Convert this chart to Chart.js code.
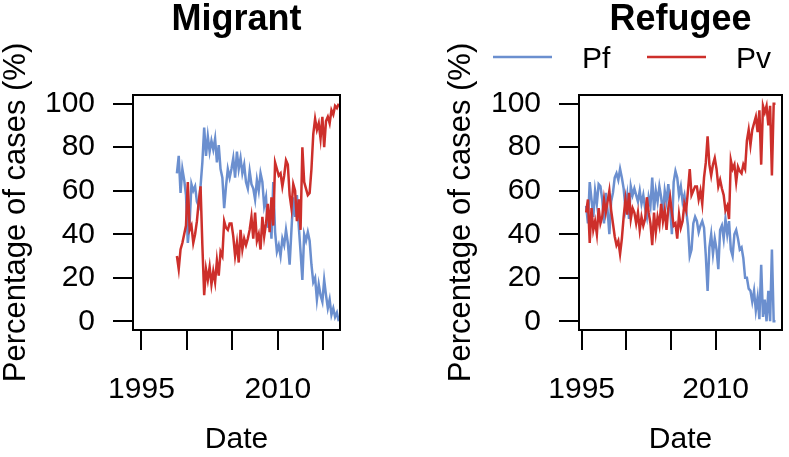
<!DOCTYPE html>
<html>
<head>
<meta charset="utf-8">
<script src="https://cdn.jsdelivr.net/npm/chart.js@4/dist/chart.umd.min.js"></script>
<style>
  html, body { margin: 0; padding: 0; background: #fff; }
  #wrap { position: relative; width: 789px; height: 457px; }
  canvas { position: absolute; top: 0; }
  #migrant-chart { left: 0; }
  #refugee-chart { left: 395px; }
</style>
</head>
<body>
<div id="wrap">
  <canvas id="migrant-chart" width="395" height="457"></canvas>
  <canvas id="refugee-chart" width="394" height="457"></canvas>
</div>
<script>
// Sampling of both series (decimal years, one reading every 0.2 year)
const migStart = 1998.9;
const refStart = 1995.5;
const stepYears = 0.2;

// Migrant panel readings (% of cases)
const migPf = [
  68, 76, 59, 70, 65, 58, 36, 45, 63, 60, 62, 55, 53, 62, 73, 89, 76, 85, 78, 83,
  79, 84, 73, 81, 70, 66, 52, 62, 70, 66,
  70, 75, 66, 78, 70, 75, 68, 72, 64, 61, 69, 63, 61, 56, 65, 60, 68, 64, 53, 57,
  43, 50, 38, 64, 41, 32, 35, 30, 38, 35, 42,
  36, 26, 42, 57, 48, 58, 44, 32, 19, 40, 37, 41, 37, 26, 18, 20, 10, 17, 12, 9,
  19, 12, 6, 10, 3, 6, 2, 4, 0,
];
const migPv = [
  30, 24, 33, 36, 40, 44, 64, 42, 44, 36, 40, 46, 55, 62, 35, 12, 24, 19, 25, 17,
  23, 18, 28, 21, 32, 30, 46, 43, 42, 45,
  45, 39, 30, 36, 27, 42, 33, 38, 35, 38, 42, 48, 38, 50, 37, 40, 33, 48, 39, 45,
  54, 41, 57, 44, 73, 70, 67, 68, 62, 67, 74,
  72, 58, 52, 63, 60, 46, 56, 42, 80, 64, 61, 58, 59, 70, 86, 93, 88, 91, 84, 94,
  80, 92, 94, 91, 97, 95, 99, 98, 100,
];

// Refugee panel readings (% of cases)
const refPf = [
  53, 45, 64, 56, 48, 60, 54, 63, 62, 56, 45, 59, 51, 40, 55, 59, 66, 68, 65, 70,
  66, 61, 52, 58, 47, 62, 58, 61, 58, 55, 60, 54, 58, 52,
  48, 57, 53, 66, 51, 60, 55, 62, 57, 49, 60, 55, 63, 53, 40, 64, 69, 66, 58, 62,
  55, 58, 51, 44, 30, 33, 45, 48, 46, 41, 44, 46, 43, 30, 14, 34, 40, 31,
  38, 33, 24, 42, 44, 38, 47, 40, 46, 33, 30, 40, 42, 38, 33, 34, 29, 20, 20, 15,
  14, 9, 14, 5, 11, 1, 26, 2, 10, 0, 14, 0, 33, 0, 0,
];
const refPv = [
  50, 56, 36, 52, 42, 46, 40, 52, 45, 48, 56, 50, 55, 60, 51, 45, 39, 35, 37, 31,
  38, 48, 56, 49, 59, 47, 52, 50, 45, 50, 42, 48, 44, 47,
  57, 50, 45, 35, 50, 41, 48, 44, 54, 46, 51, 42, 52, 57, 50, 44, 45, 38, 49, 43,
  46, 54, 51, 60, 70, 58, 60, 62, 62, 56, 60, 54, 66, 73, 85, 72, 67, 72,
  75, 70, 62, 65, 61, 58, 51, 53, 47, 74, 70, 72, 64, 71, 69, 68, 72, 70, 83, 88,
  81, 88, 91, 94, 87, 97, 72, 99, 96, 99, 90, 99, 67, 100, 100,
];

// Axis ticks
const xTicks = [1995, 2000, 2005, 2010, 2015];
const xTickLabels = ["1995", "", "", "2010", ""];
const yTicks = [0, 20, 40, 60, 80, 100];
const yTickLabels = ["0", "20", "40", "60", "80", "100"];

const seriesNames = ["Pf", "Pv"];
const seriesColors = ["#6b8fcf", "#cd2f2b"];

const FONT = "'Liberation Sans', Arial, Helvetica, sans-serif";
Chart.defaults.font.family = FONT;
Chart.defaults.color = "#000";

// Turn a series into {x, y} points
function toPoints(start, values) {
  return values.map((v, i) => ({ x: start + i * stepYears, y: v }));
}

// Box, panel title and (optionally) legend, drawn after the chart
const panelDecor = {
  id: "panelDecor",
  afterDraw(chart, args, opts) {
    const { ctx, chartArea } = chart;
    ctx.save();
    ctx.strokeStyle = "#000";
    ctx.lineWidth = 2;
    ctx.strokeRect(
      chartArea.left,
      chartArea.top,
      chartArea.right - chartArea.left,
      chartArea.bottom - chartArea.top,
    );

    ctx.fillStyle = "#000";
    ctx.font = "bold 36px " + FONT;
    ctx.textAlign = "center";
    ctx.textBaseline = "alphabetic";
    ctx.fillText(opts.title, (chartArea.left + chartArea.right) / 2, 30);

    if (opts.legend) {
      ctx.font = "30px " + FONT;
      ctx.textAlign = "left";
      chart.data.datasets.forEach((ds, i) => {
        const lx = opts.legendX + i * 154;
        ctx.strokeStyle = ds.borderColor;
        ctx.lineWidth = 2.5;
        ctx.beginPath();
        ctx.moveTo(lx, 57);
        ctx.lineTo(lx + 59, 57);
        ctx.stroke();
        ctx.fillText(ds.label, lx + 89, 68);
      });
    }
    ctx.restore();
  },
};

function makeScales(xMin, xMax, yWidth) {
  const gridOpts = {
    drawOnChartArea: false,
    drawTicks: true,
    tickLength: 20,
    color: "#000",
    lineWidth: 2,
  };
  return {
    x: {
      type: "linear",
      min: xMin,
      max: xMax,
      afterBuildTicks: (s) => {
        s.ticks = xTicks.map((v) => ({ value: v }));
      },
      afterFit: (s) => {
        s.height = 127;
      },
      grid: gridOpts,
      border: { display: false },
      ticks: {
        autoSkip: false,
        maxRotation: 0,
        padding: 22,
        font: { size: 30 },
        callback: (v, i) => xTickLabels[i],
      },
      title: {
        display: true,
        text: "Date",
        font: { size: 30, lineHeight: 1 },
        padding: { top: 0, bottom: 2 },
      },
    },
    y: {
      min: -4,
      max: 104,
      afterBuildTicks: (s) => {
        s.ticks = yTicks.map((v) => ({ value: v }));
      },
      afterFit: (s) => {
        s.width = yWidth;
      },
      grid: gridOpts,
      border: { display: false },
      ticks: {
        padding: 18,
        font: { size: 30 },
        callback: (v, i) => yTickLabels[i],
      },
      title: {
        display: true,
        text: "Percentage of cases (%)",
        font: { size: 31, lineHeight: 1 },
        padding: { top: 1, bottom: 0 },
      },
    },
  };
}

function makeDatasets(start, pf, pv) {
  return [pf, pv].map((vals, i) => ({
    label: seriesNames[i],
    data: toPoints(start, vals),
    borderColor: seriesColors[i],
    backgroundColor: seriesColors[i],
    borderWidth: 2.5,
    pointRadius: 0,
    tension: 0,
    fill: false,
    order: 2 - i,
  }));
}

function renderPanel(canvasId, cfg) {
  return new Chart(document.getElementById(canvasId), {
    type: "line",
    data: { datasets: makeDatasets(cfg.start, cfg.pf, cfg.pv) },
    options: {
      responsive: false,
      animation: false,
      layout: { padding: cfg.padding },
      scales: makeScales(cfg.xMin, cfg.xMax, cfg.yWidth),
      plugins: {
        legend: { display: false },
        tooltip: { enabled: false },
        panelDecor: { title: cfg.title, legend: cfg.legend, legendX: 98 },
      },
    },
    plugins: [panelDecor],
  });
}

renderPanel("migrant-chart", {
  title: "Migrant",
  start: migStart,
  pf: migPf,
  pv: migPv,
  xMin: 1994.07,
  xMax: 2016.84,
  yWidth: 133,
  padding: { left: 0, right: 55, top: 95, bottom: 0 },
  legend: false,
});

renderPanel("refugee-chart", {
  title: "Refugee",
  start: refStart,
  pf: refPf,
  pv: refPv,
  xMin: 1994.7,
  xMax: 2017.43,
  yWidth: 134,
  padding: { left: 50, right: 7, top: 95, bottom: 0 },
  legend: true,
});
</script>
</body>
</html>
